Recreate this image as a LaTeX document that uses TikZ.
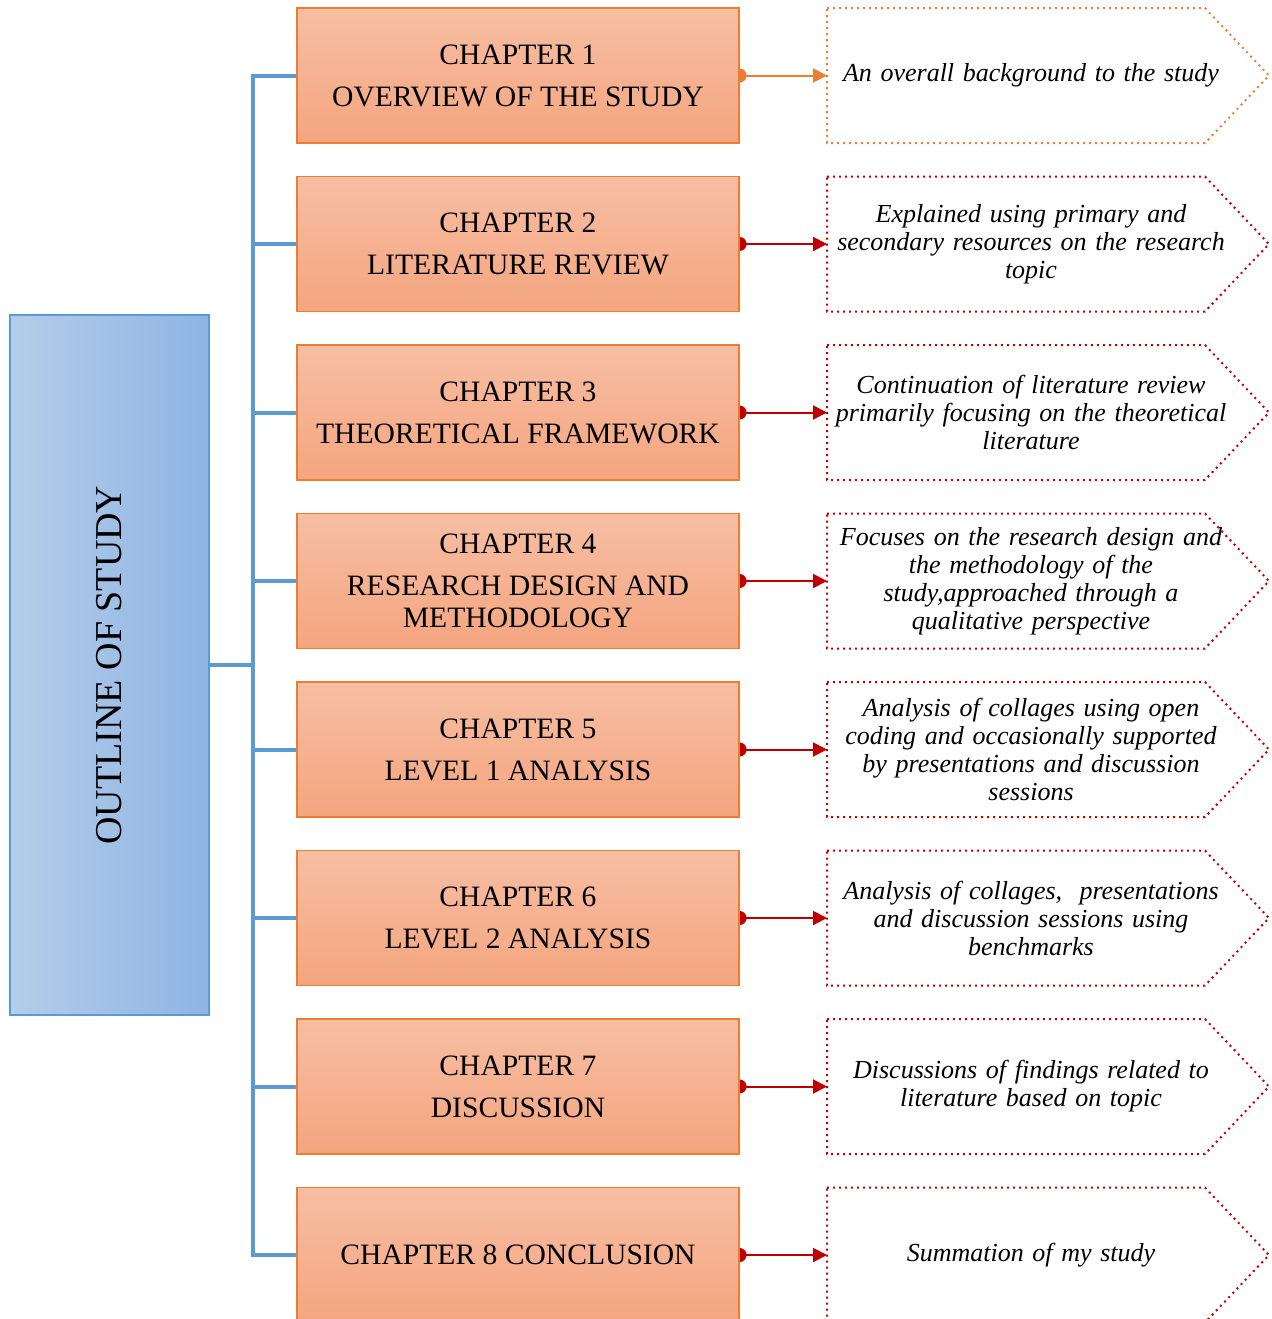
\documentclass[tikz,border=0pt]{standalone}
\usepackage{fontspec}
\setmainfont{Liberation Serif}
\usetikzlibrary{positioning,arrows.meta,calc,backgrounds}
\definecolor{azul}{HTML}{5B9BD5}
\definecolor{azulclaro}{HTML}{B4CDEA}
\definecolor{azuloscuro}{HTML}{8FB4E3}
\definecolor{naranja}{HTML}{ED7D31}
\definecolor{salmon}{HTML}{F7BEA3}
\definecolor{salmonosc}{HTML}{F4A57F}
\definecolor{rojo}{HTML}{C00000}

\begin{document}
\begin{tikzpicture}[x=0.5pt, y=-0.5pt,
      capitulo/.style={draw=naranja, line width=0.6pt, top color=salmon, bottom color=salmonosc,
                   minimum width=221pt, minimum height=67.5pt, align=center,
                   font=\fontsize{14.8}{21}\selectfont},
      resumen/.style={text width=205pt, align=center, inner sep=0pt,
                   font=\fontsize{13}{14}\selectfont\itshape},
      contorno/.style={line width=1pt, dash pattern=on 1pt off 2pt},
      flecha/.style={line width=1pt, shorten <=-3.5pt, {Circle[length=7pt]}-{Triangle[length=7pt,width=7pt]}},
      rama/.style={azul, line width=2pt}]
    \useasboundingbox (0,0) rectangle (1271,1319);
    % caja izquierda
    \node[draw=azul, line width=0.6pt, left color=azulclaro, right color=azuloscuro,
          minimum width=99.5pt, minimum height=350pt] (outline) at (109.5,665) {};
    \node[rotate=90, font=\fontsize{19}{23}\selectfont] (titulo) at (outline.center) {OUTLINE OF STUDY};
    % capitulos
    \node[capitulo] (cap1) at (518,75.5) {CHAPTER 1\\OVERVIEW OF THE STUDY};
    \node[capitulo] (cap2) at (518,244) {CHAPTER 2\\LITERATURE REVIEW};
    \node[capitulo] (cap3) at (518,412.5) {CHAPTER 3\\THEORETICAL FRAMEWORK};
    \node[capitulo] (cap4) at (518,581) {CHAPTER 4\\RESEARCH DESIGN AND\\[-5pt]METHODOLOGY};
    \node[capitulo] (cap5) at (518,749.5) {CHAPTER 5\\LEVEL 1 ANALYSIS};
    \node[capitulo] (cap6) at (518,918) {CHAPTER 6\\LEVEL 2 ANALYSIS};
    \node[capitulo] (cap7) at (518,1086.5) {CHAPTER 7\\DISCUSSION};
    \node[capitulo] (cap8) at (518,1255) {CHAPTER 8 CONCLUSION};
    % descripciones
    \node[resumen] (des1) at (1031,75.5) {An overall background to the study};
    \node[resumen] (des2) at (1031,244) {Explained using primary and\\secondary resources on the research\\topic};
    \node[resumen] (des3) at (1031,412.5) {Continuation of literature review\\primarily focusing on the theoretical\\literature};
    \node[resumen] (des4) at (1031,581) {Focuses on the research design and\\the methodology of the\\study,approached through a\\qualitative perspective};
    \node[resumen] (des5) at (1031,749.5) {Analysis of collages using open\\coding and occasionally supported\\by presentations and discussion\\sessions};
    \node[resumen] (des6) at (1031,918) {Analysis of collages,\ \ presentations\\and discussion sessions using\\benchmarks};
    \node[resumen] (des7) at (1031,1086.5) {Discussions of findings related to\\literature based on topic};
    \node[resumen] (des8) at (1031,1255) {Summation of my study};
    % contornos en flecha
    \foreach \i/\col in {1/naranja,2/rojo,3/rojo,4/rojo,5/rojo,6/rojo,7/rojo,8/rojo}{
      \coordinate (ent\i) at ($(des\i.center)+(-204,0)$);
      \draw[contorno, \col] ($(des\i.center)+(-204,-67.5)$) -- ($(des\i.center)+(174,-67.5)$)
            -- ($(des\i.center)+(238,0)$) -- ($(des\i.center)+(174,67.5)$)
            -- ($(des\i.center)+(-204,67.5)$) -- cycle;
    }
    \coordinate (tronco) at (253,665);
    \begin{scope}[on background layer]
      \foreach \i/\col in {1/naranja,2/rojo,3/rojo,4/rojo,5/rojo,6/rojo,7/rojo,8/rojo}{
        \draw[flecha, \col] (cap\i.east) -- (ent\i);
      }
    \end{scope}
    % ramas
    \draw[rama] (outline.east) -- (tronco);
    \draw[rama] (cap1.west) -| (tronco) |- (cap8.west);
    \foreach \i in {2,...,7}{
      \draw[rama] (cap\i.west) -- (tronco |- cap\i.west);
    }
  \end{tikzpicture}
\end{document}
